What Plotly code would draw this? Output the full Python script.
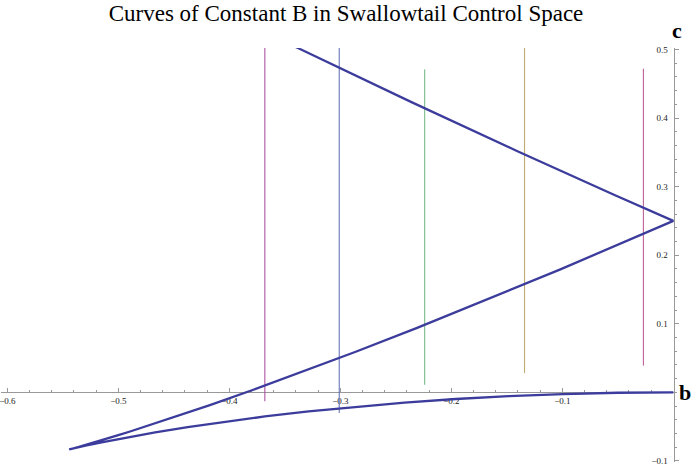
import plotly.graph_objects as go

# swallowtail bifurcation curve (b, c)
curve_b = [-0.4480, -0.3382, -0.2359, -0.1409, -0.0530, 0.0,
           -0.1023, -0.2015, -0.2314, -0.2867, -0.3360, -0.3796, -0.4175,
           -0.4501, -0.4645, -0.4776, -0.4894, -0.5000, -0.5094, -0.5247,
           -0.5355, -0.5420, -0.5443,
           -0.5405, -0.5285, -0.5127, -0.4920, -0.4668, -0.4375, -0.4044,
           -0.3680, -0.3286, -0.2865, -0.2422, -0.1960, -0.1483, -0.0995,
           -0.0499, 0.0]
curve_c = [0.5888, 0.5021, 0.4233, 0.3520, 0.2878, 0.2500,
           0.1790, 0.1130, 0.0937, 0.0589, 0.0288, 0.0031, -0.0186,
           -0.0365, -0.0442, -0.0511, -0.0571, -0.0625, -0.0672, -0.0745,
           -0.0795, -0.0823, -0.0833,
           -0.0818, -0.0775, -0.0722, -0.0657, -0.0585, -0.0508, -0.0429,
           -0.0352, -0.0278, -0.0210, -0.0149, -0.0097, -0.0055, -0.0025,
           -0.0006, 0.0]

# curves of constant B (nearly vertical)
const_b = [-0.368, -0.301, -0.224, -0.134, -0.027]
const_c_low = [-0.013, -0.030, 0.011, 0.028, 0.039]
const_c_high = [0.51, 0.51, 0.471, 0.51, 0.472]
const_colors = ["#a8449a", "#5a68b0", "#6cb47e", "#b8a864", "#b8508e"]

x_ticks = [-0.6, -0.5, -0.4, -0.3, -0.2, -0.1]
y_ticks = [-0.1, 0.1, 0.2, 0.3, 0.4, 0.5]


def label(v):
    return ("\u2212%g" % abs(v)) if v < 0 else "%g" % v


fig = go.Figure()

for b, lo, hi, col in zip(const_b, const_c_low, const_c_high, const_colors):
    fig.add_scatter(x=[b, b], y=[lo, hi], mode="lines",
                    line=dict(color=col, width=1), hoverinfo="skip")

fig.add_scatter(x=curve_b, y=curve_c, mode="lines",
                line=dict(color="#3c3c9c", width=2.3))

axis_common = dict(
    showgrid=False, zeroline=False, showline=True, linecolor="#999999",
    linewidth=1, ticks="inside", tickcolor="#999999", ticklen=4,
    tickfont=dict(family="Liberation Serif", size=9, color="#222222"),
    layer="below traces", automargin=False, ticklabeloverflow="allow",
    minor=dict(dtick=0.02, tick0=0, ticks="inside", ticklen=2,
               tickcolor="#999999"),
)

fig.update_layout(
    width=692, height=465,
    margin=dict(l=1, r=18, t=48, b=3, autoexpand=False),
    paper_bgcolor="white", plot_bgcolor="white",
    showlegend=False,
    title=dict(text="Curves of Constant B in Swallowtail Control Space",
               x=0.5, xanchor="center", y=0.973, yanchor="middle",
               yref="container",
               font=dict(family="Liberation Serif", size=23, color="black")),
    xaxis=dict(range=[-0.6057, 0.0006], anchor="free", position=0.1684,
               tickvals=x_ticks, ticktext=[label(v) for v in x_ticks],
               **axis_common),
    yaxis=dict(range=[-0.1016, 0.5022], anchor="free", position=0.9995,
               side="left", ticklabelstandoff=4,
               tickvals=y_ticks, ticktext=[label(v) for v in y_ticks],
               **axis_common),
    annotations=[
        dict(text="<b>b</b>", x=1.016, y=0.1684, xref="paper", yref="paper",
             xanchor="center", yanchor="middle", showarrow=False,
             font=dict(family="Liberation Serif", size=22, color="black")),
        dict(text="<b>c</b>", x=1.004, y=1.043, xref="paper", yref="paper",
             xanchor="center", yanchor="middle", showarrow=False,
             font=dict(family="Liberation Serif", size=22, color="black")),
    ],
)

fig.write_html("out.html", config={"displayModeBar": False},
               post_script="document.body.style.margin='0';")
